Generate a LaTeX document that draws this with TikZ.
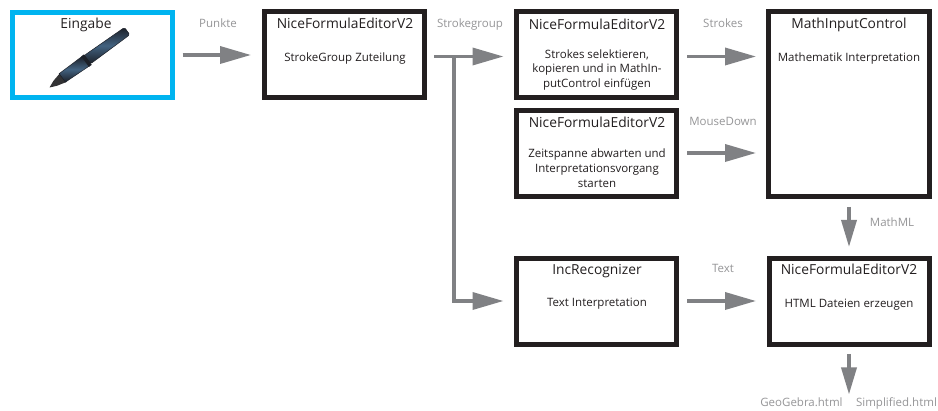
\documentclass[tikz,border=0pt]{standalone}
\usepackage{fontspec}
\setmainfont{Open Sans}
\usetikzlibrary{arrows.meta}
\definecolor{lab}{RGB}{150,150,152}
\definecolor{arr}{RGB}{128,129,132}
\definecolor{boxk}{RGB}{35,31,32}
\definecolor{cy}{RGB}{0,180,240}
\definecolor{penb}{RGB}{66,98,128}
\definecolor{pend}{RGB}{28,32,40}
\definecolor{nib}{RGB}{50,50,52}
\tikzset{
  x=1pt,y=-1pt,
  fb/.style={draw=boxk,line width=5pt,fill=white,inner sep=0pt,outer sep=0pt,anchor=north west},
  ttl/.style={font=\fontsize{13.8}{15}\selectfont,text=boxk,anchor=center,inner sep=0pt,text height=10pt,text depth=0pt},
  bod/.style={font=\fontsize{11.5}{14.8}\selectfont,text=boxk,align=center,anchor=center,inner sep=0pt},
  lbl/.style={font=\fontsize{11.5}{13}\selectfont,text=lab,anchor=center,inner sep=0pt,text height=8pt,text depth=0pt},
  flow/.style={draw=arr,line width=3.5pt,-{Triangle[length=31pt,width=17pt,fill=arr]}},
  flowv/.style={draw=arr,line width=3.5pt,-{Triangle[length=27pt,width=15pt,fill=arr]}},
  bar/.style={draw=arr,line width=3.5pt},
  penpart/.style={top color=pend,bottom color=pend,middle color=penb,draw=pend,line width=.5pt},
}
\begin{document}
\begin{tikzpicture}
\useasboundingbox (0,0) rectangle (938,411);
\fill[white] (0,0) rectangle (938,411);
% boxes
\node[fb,draw=cy,minimum width=160pt,minimum height=85pt] (ein) at (12.5,12.5) {};
\node[fb,minimum width=160pt,minimum height=86pt] (ed1) at (264.5,11.5) {};
\node[fb,minimum width=160pt,minimum height=86pt] (ed2) at (516.5,11.5) {};
\node[fb,minimum width=160pt,minimum height=86pt] (ed3) at (516.5,110.5) {};
\node[fb,minimum width=161pt,minimum height=185pt] (mic) at (768.5,11.5) {};
\node[fb,minimum width=160pt,minimum height=86pt] (inc) at (516.5,258.5) {};
\node[fb,minimum width=160pt,minimum height=86pt] (ed4) at (769.5,258.5) {};
% titles
\node[ttl] (t0) at (86,24) {Eingabe};
\node[ttl] (t1) at (345,24) {NiceFormulaEditorV2};
\node[ttl] (t2) at (597,25) {NiceFormulaEditorV2};
\node[ttl] (t3) at (597,123) {NiceFormulaEditorV2};
\node[ttl] (t4) at (849,24) {MathInputControl};
\node[ttl] (t5) at (597,270) {IncRecognizer};
\node[ttl] (t6) at (849,270) {NiceFormulaEditorV2};
% bodies
\node[bod] (b1) at (345,59) {StrokeGroup Zuteilung};
\node[bod] (b2) at (597,70) {Strokes selektieren,\\kopieren und in MathIn-\\putControl einfügen};
\node[bod] (b3) at (597,168) {Zeitspanne abwarten und\\Interpretationsvorgang\\starten};
\node[bod] (b4) at (849,59) {Mathematik Interpretation};
\node[bod] (b5) at (597,304) {Text Interpretation};
\node[bod] (b6) at (849,305) {HTML Dateien erzeugen};
% labels
\node[lbl] (l1) at (218,24) {Punkte};
\node[lbl] (l2) at (470,24) {Strokegroup};
\node[lbl] (l3) at (723,24) {Strokes};
\node[lbl] (l4) at (723,122) {MouseDown};
\node[lbl] (l5) at (723,269) {Text};
\node[lbl] (l6) at (892,223) {MathML};
\node[lbl] (l7) at (801.5,403) {GeoGebra.html};
\node[lbl] (l8) at (896.5,403) {Simplified.html};
% pen
\begin{scope}[shift={(49.5,87.5)},rotate=36]
\fill[nib] (0,0) -- (7,-3) -- (17,-5.5) -- (17,5.5) -- (7,3) -- cycle;
\shade[penpart] (16,-5.5) -- (45,-6) -- (45,6) -- (16,5) -- cycle;
\shade[penpart,rounded corners=1.5pt] (47,-5.5) -- (96,-4.5) -- (96,4.5) -- (47,5) -- cycle;
\fill[pend] (44,-6.5) rectangle (47.5,6.5);
\end{scope}
% connectors
\coordinate (a1s) at (182.5,55);\coordinate (a1e) at (251,55);
\draw[flow] (a1s) -- (a1e);
\coordinate (a2s) at (434,56.5);\coordinate (a2e) at (503.5,56.5);
\draw[flow] (a2s) -- (a2e);
\coordinate (j1) at (454,56.5);\coordinate (j2) at (454,301);\coordinate (a3e) at (503.5,301);
\draw[bar,line cap=rect] (j1) -- (j2);
\draw[flow] (j2) -- (a3e);
\coordinate (a4s) at (687,56.5);\coordinate (a4e) at (756,56.5);
\draw[flow] (a4s) -- (a4e);
\coordinate (a5s) at (687,153);\coordinate (a5e) at (756,153);
\draw[flow] (a5s) -- (a5e);
\coordinate (a6s) at (687,301);\coordinate (a6e) at (756,301);
\draw[flow] (a6s) -- (a6e);
\coordinate (a7s) at (849,207);\coordinate (a7e) at (849,247);
\draw[flowv] (a7s) -- (a7e);
\coordinate (a8s) at (849,354);\coordinate (a8e) at (849,394.5);
\draw[flowv] (a8s) -- (a8e);
\end{tikzpicture}
\end{document}
